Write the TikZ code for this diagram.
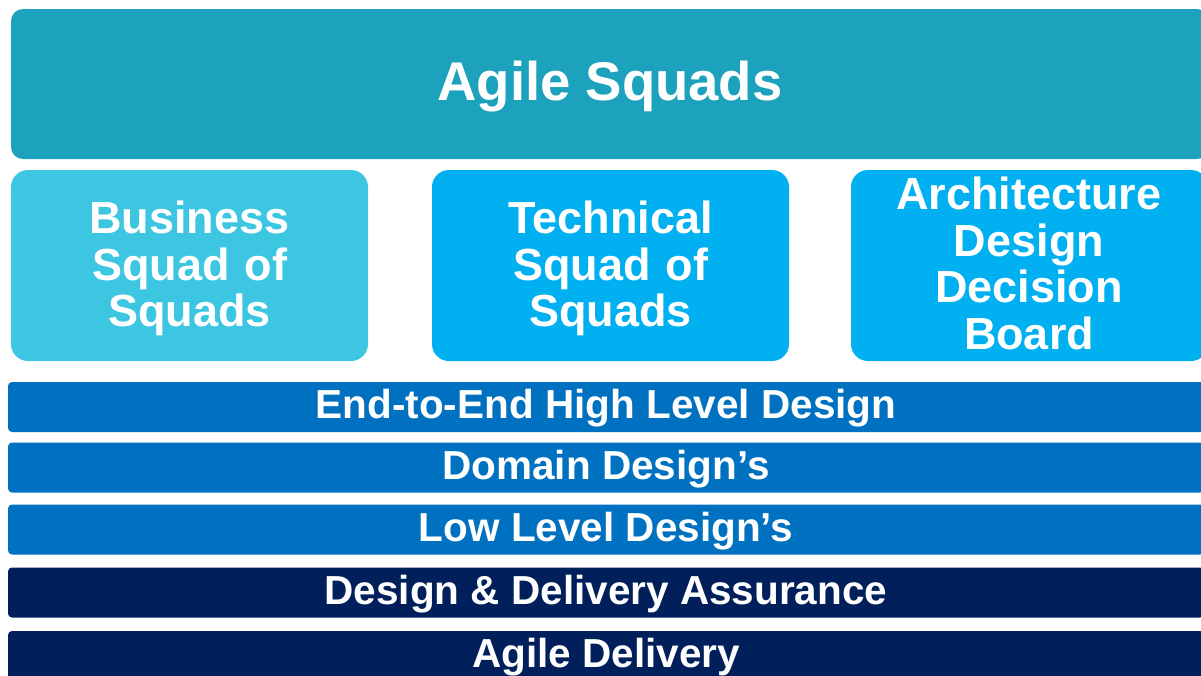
\documentclass[tikz,border=0pt]{standalone}
\usepackage{fontspec}
\setmainfont{Liberation Sans}
\definecolor{topc}{HTML}{1CA2BC}
\definecolor{busc}{HTML}{3CC6E2}
\definecolor{skyc}{HTML}{00B0F0}
\definecolor{midc}{HTML}{0070C0}
\definecolor{darkc}{HTML}{001F5B}
\tikzset{
  box/.style={rounded corners=17pt, inner sep=0pt, minimum width=357pt, minimum height=191pt},
  boxtext/.style={inner sep=0pt, anchor=base, text width=357pt, align=center,
    text=white, font=\bfseries\fontsize{45}{46.7}\selectfont},
  bar/.style={rounded corners=4pt, inner sep=0pt, minimum width=1196pt, minimum height=50pt,
    text height=29pt, text depth=6pt,
    text=white, font=\bfseries\fontsize{40.5}{44}\selectfont},
}
\begin{document}
\begin{tikzpicture}[x=1pt,y=-1pt]
\useasboundingbox (0,0) rectangle (1201,675);
\clip (0,0) rectangle (1201,675);
\node[rounded corners=12pt, fill=topc, inner sep=0pt, minimum width=1198pt, minimum height=150pt,
  text height=40pt, text depth=8pt,
  text=white, font=\bfseries\fontsize{54.5}{60}\selectfont] (top) at (610,84) {Agile Squads};
\node[box, fill=busc] (bus) at (189.5,265.5) {};
\node[box, fill=skyc] (tech) at (610.5,265.5) {};
\node[box, fill=skyc] (arch) at (1029.5,265.5) {};
\node[boxtext] (bustext) at (189.5,233.5) {Business\\Squad of\\Squads};
\node[boxtext] (techtext) at (610.5,233.5) {Technical\\Squad of\\Squads};
\node[boxtext] (archtext) at (1029,209.5) {Architecture\\Design\\Decision\\Board};
\node[bar, fill=midc] (e2e) at (606,407) {End-to-End High Level Design};
\node[bar, fill=midc] (dom) at (606,467.5) {Domain Design’s};
\node[bar, fill=midc] (low) at (606,529.5) {Low Level Design’s};
\node[bar, fill=darkc] (dda) at (606,592.5) {Design \& Delivery Assurance};
\node[bar, fill=darkc] (agd) at (606,656) {Agile Delivery};
\end{tikzpicture}
\end{document}
